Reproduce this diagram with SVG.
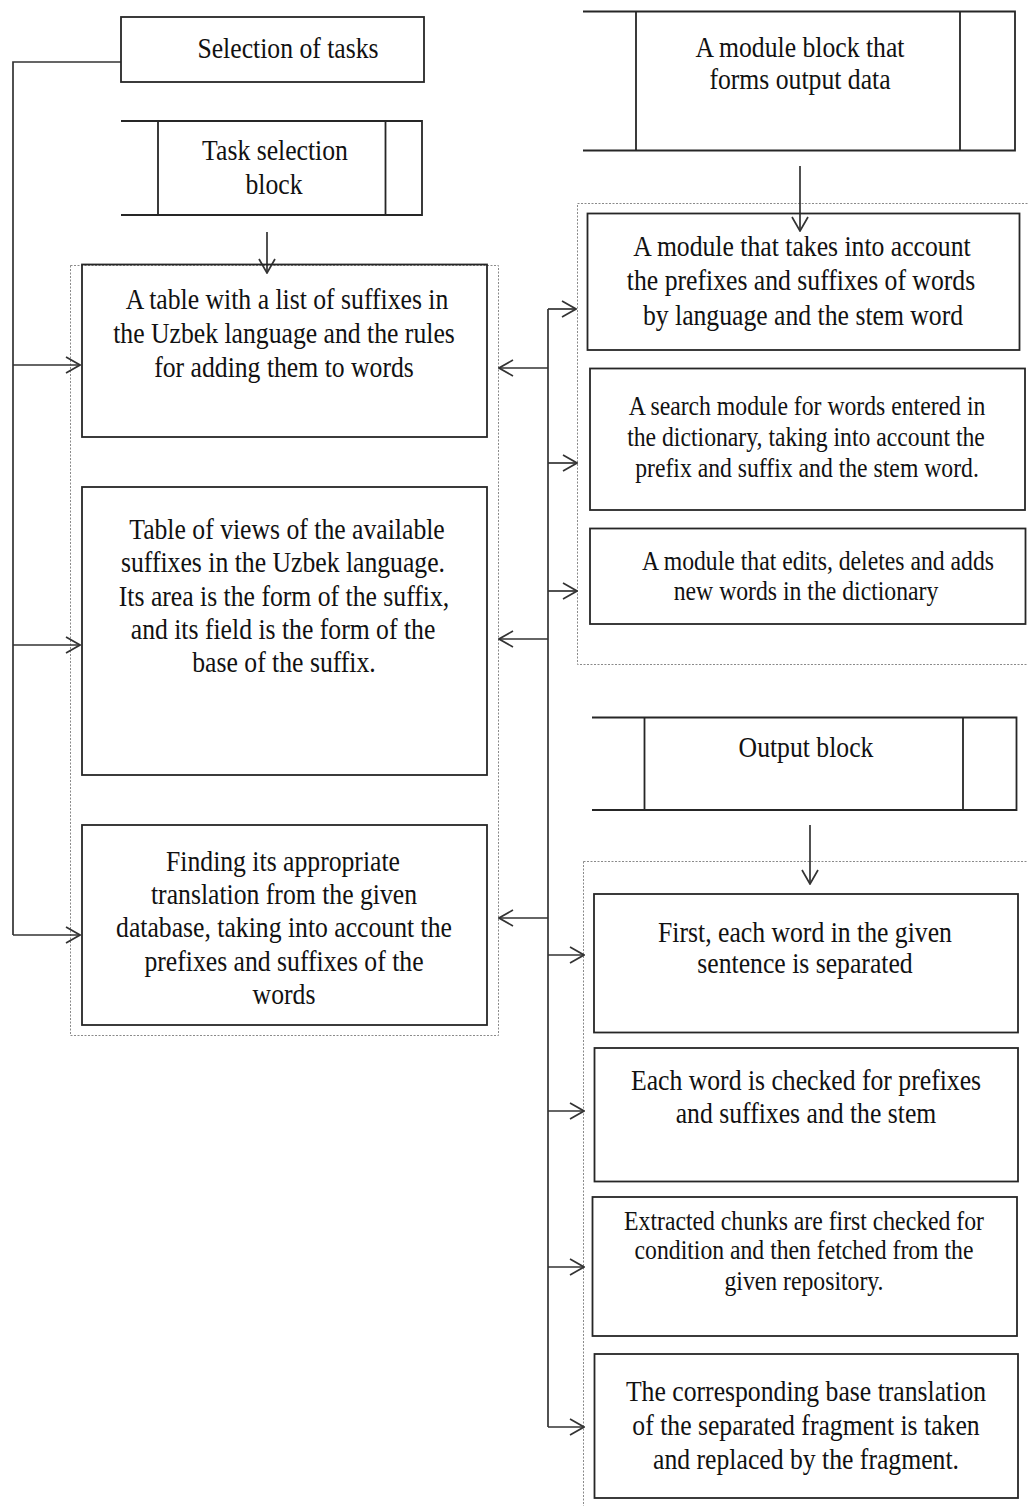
<svg xmlns="http://www.w3.org/2000/svg" width="1028" height="1506" viewBox="0 0 1028 1506">
<style>
.bx{fill:none;stroke:#262626;stroke-width:1.8}
.dash{fill:none;stroke:#8a8a8a;stroke-width:1;stroke-dasharray:2 1.5}
.ln{fill:none;stroke:#333;stroke-width:1.7}
.ar{fill:none;stroke:#333;stroke-width:1.7;marker-end:url(#ah)}
.t{font-family:"Liberation Serif","Times New Roman",serif;font-size:25.7px;fill:#111;text-anchor:middle}
.s{font-size:23.7px}
</style>
<defs>
<marker id="ah" viewBox="0 0 16 18" refX="15" refY="9" markerWidth="16" markerHeight="18" markerUnits="userSpaceOnUse" orient="auto">
<path d="M1,1 L15,9 L1,17" fill="none" stroke="#333" stroke-width="1.7"/>
</marker>
</defs>
<rect width="1028" height="1506" fill="#fff"/>

<g id="containers">
<rect class="dash" x="70.5" y="265.5" width="428" height="770"/>
<rect class="dash" x="577.5" y="203.5" width="470" height="461"/>
<rect class="dash" x="583.5" y="861.5" width="470" height="700"/>
</g>

<g id="connectors">
<path class="ln" d="M121,62 H13 V935"/>
<line class="ar" x1="13" y1="365" x2="80" y2="365"/>
<line class="ar" x1="13" y1="645" x2="80" y2="645"/>
<line class="ar" x1="13" y1="935" x2="80" y2="935"/>
<line class="ar" x1="267" y1="232" x2="267" y2="273"/>
<line class="ar" x1="800" y1="166" x2="800" y2="231"/>
<line class="ar" x1="810" y1="825" x2="810" y2="884"/>
<path class="ln" d="M548,309 V1427"/>
<line class="ar" x1="548" y1="309" x2="576" y2="309"/>
<line class="ar" x1="548" y1="463" x2="577" y2="463"/>
<line class="ar" x1="548" y1="591" x2="577" y2="591"/>
<line class="ar" x1="548" y1="368" x2="499" y2="368"/>
<line class="ar" x1="548" y1="639" x2="499" y2="639"/>
<line class="ar" x1="548" y1="918" x2="499" y2="918"/>
<line class="ar" x1="548" y1="955" x2="584" y2="955"/>
<line class="ar" x1="548" y1="1111" x2="584" y2="1111"/>
<line class="ar" x1="548" y1="1267" x2="584" y2="1267"/>
<line class="ar" x1="548" y1="1427" x2="584" y2="1427"/>
</g>

<g id="selection-of-tasks">
<rect class="bx" x="121" y="17" width="303" height="65"/>
<text class="t" transform="translate(288,58) scale(1,1.12)">Selection of tasks</text>
</g>

<g id="task-selection-block">
<path class="bx" d="M121,121 H422 V215 H121 M158,121 V215 M385.5,121 V215"/>
<text class="t" transform="translate(275,160) scale(1,1.12)">Task selection</text>
<text class="t" transform="translate(274,194) scale(1,1.12)">block</text>
</g>

<g id="suffix-table">
<rect class="bx" x="82" y="264.5" width="405" height="172.5"/>
<text class="t" transform="translate(287,309) scale(1,1.12)">A table with a list of suffixes in</text>
<text class="t" transform="translate(284,343) scale(1,1.12)">the Uzbek language and the rules</text>
<text class="t" transform="translate(284,377) scale(1,1.12)">for adding them to words</text>
</g>

<g id="views-table">
<rect class="bx" x="82" y="487" width="405" height="288"/>
<text class="t" transform="translate(287,539) scale(1,1.12)">Table of views of the available</text>
<text class="t" transform="translate(283,572) scale(1,1.12)">suffixes in the Uzbek language.</text>
<text class="t" transform="translate(284,606) scale(1,1.12)">Its area is the form of the suffix,</text>
<text class="t" transform="translate(283,639) scale(1,1.12)">and its field is the form of the</text>
<text class="t" transform="translate(284,672) scale(1,1.12)">base of the suffix.</text>
</g>

<g id="finding-translation">
<rect class="bx" x="82" y="825" width="405" height="200"/>
<text class="t" transform="translate(283,871) scale(1,1.12)">Finding its appropriate</text>
<text class="t" transform="translate(284,904) scale(1,1.12)">translation from the given</text>
<text class="t" transform="translate(284,937) scale(1,1.12)">database, taking into account the</text>
<text class="t" transform="translate(284,971) scale(1,1.12)">prefixes and suffixes of the</text>
<text class="t" transform="translate(284,1004) scale(1,1.12)">words</text>
</g>

<g id="output-data-module-block">
<path class="bx" d="M583,11.5 H1015 V150.5 H583 M636,11.5 V150.5 M960,11.5 V150.5"/>
<text class="t" transform="translate(800,57) scale(1,1.12)">A module block that</text>
<text class="t" transform="translate(800,89) scale(1,1.12)">forms output data</text>
</g>

<g id="prefix-suffix-module">
<rect class="bx" x="587.5" y="213.5" width="432" height="136.5"/>
<text class="t" transform="translate(802,256) scale(1,1.12)">A module that takes into account</text>
<text class="t" transform="translate(801,290) scale(1,1.12)">the prefixes and suffixes of words</text>
<text class="t" transform="translate(803,325) scale(1,1.12)">by language and the stem word</text>
</g>

<g id="search-module">
<rect class="bx" x="590" y="368.5" width="435" height="141.5"/>
<text class="t s" transform="translate(807,415) scale(1,1.14)">A search module for words entered in</text>
<text class="t s" transform="translate(806,446) scale(1,1.14)">the dictionary, taking into account the</text>
<text class="t s" transform="translate(807,477) scale(1,1.14)">prefix and suffix and the stem word.</text>
</g>

<g id="edit-module">
<rect class="bx" x="590" y="528.5" width="435.5" height="95.5"/>
<text class="t s" transform="translate(818,570) scale(1,1.14)">A module that edits, deletes and adds</text>
<text class="t s" transform="translate(806,600) scale(1,1.14)">new words in the dictionary</text>
</g>

<g id="output-block">
<path class="bx" d="M592,717.5 H1016.5 V810 H592 M644.5,717.5 V810 M963,717.5 V810"/>
<text class="t" transform="translate(806,757) scale(1,1.12)">Output block</text>
</g>

<g id="separate-words">
<rect class="bx" x="594" y="894" width="424" height="138.5"/>
<text class="t" transform="translate(805,942) scale(1,1.12)">First, each word in the given</text>
<text class="t" transform="translate(805,973) scale(1,1.12)">sentence is separated</text>
</g>

<g id="check-words">
<rect class="bx" x="594.5" y="1048" width="423.5" height="133.5"/>
<text class="t" transform="translate(806,1090) scale(1,1.12)">Each word is checked for prefixes</text>
<text class="t" transform="translate(806,1123) scale(1,1.12)">and suffixes and the stem</text>
</g>

<g id="fetch-chunks">
<rect class="bx" x="592.5" y="1197" width="424.5" height="139"/>
<text class="t s" transform="translate(804,1230) scale(1,1.14)">Extracted chunks are first checked for</text>
<text class="t s" transform="translate(804,1259) scale(1,1.14)">condition and then fetched from the</text>
<text class="t s" transform="translate(804,1290) scale(1,1.14)">given repository.</text>
</g>

<g id="replace-fragment">
<rect class="bx" x="594.5" y="1354" width="423.5" height="144"/>
<text class="t" transform="translate(806,1401) scale(1,1.12)">The corresponding base translation</text>
<text class="t" transform="translate(806,1435) scale(1,1.12)">of the separated fragment is taken</text>
<text class="t" transform="translate(806,1469) scale(1,1.12)">and replaced by the fragment.</text>
</g>
</svg>
